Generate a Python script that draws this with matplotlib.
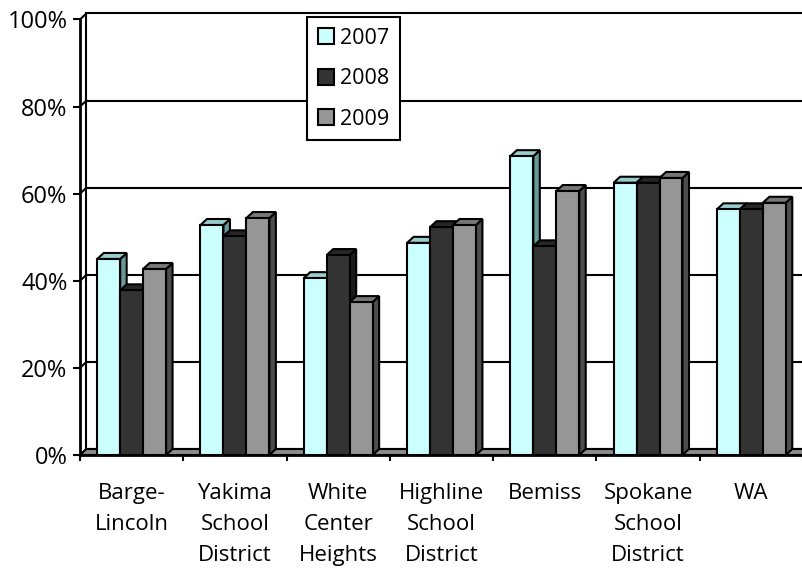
import matplotlib
matplotlib.use("Agg")
import matplotlib.pyplot as plt
from matplotlib.patches import Polygon, Patch
import numpy as np

plt.rcParams['font.family'] = ['Open Sans', 'DejaVu Sans']

categories = ["Barge-\nLincoln", "Yakima\nSchool\nDistrict", "White\nCenter\nHeights",
              "Highline\nSchool\nDistrict", "Bemiss", "Spokane\nSchool\nDistrict", "WA"]
series_names = ["2007", "2008", "2009"]
v2007 = [45.0, 52.8, 40.6, 48.7, 68.6, 62.5, 56.4]
v2008 = [37.8, 50.2, 45.9, 52.3, 47.9, 62.5, 56.4]
v2009 = [42.7, 54.4, 35.1, 52.8, 60.6, 63.6, 57.9]
yticks = [0, 20, 40, 60, 80, 100]
ytick_labels = ["0%", "20%", "40%", "60%", "80%", "100%"]

series = [v2007, v2008, v2009]
front_cols = ['#CCFFFF', '#333333', '#969696']
top_cols = ['#99CCCC', '#262626', '#777777']
side_cols = ['#669999', '#1A1A1A', '#4D4D4D']

W, H = 803, 569
fig = plt.figure(figsize=(W / 100, H / 100), dpi=100)
ax = fig.add_axes([80 / W, (H - 455) / H, 723 / W, 435.6 / H])
ncat = len(categories)
ax.set_xlim(0, ncat)
ax.set_ylim(0, 100)
for s in ax.spines.values():
    s.set_visible(False)

dx = 6.5 / (723 / ncat)     # depth offset in category units
dy = 6.0 / 4.356            # depth offset in percent units
lw = 1.5

# back wall gridlines and left wall
for v in yticks:
    ax.plot([dx, ncat + dx + 1], [v + dy, v + dy], color='black', lw=lw, clip_on=False, zorder=1,
            solid_capstyle='butt')
    ax.plot([0, dx], [v, v + dy], color='black', lw=lw, clip_on=False, zorder=1)
ax.plot([dx, dx], [dy, 100 + dy], color='black', lw=lw, clip_on=False, zorder=1)
ax.plot([0, 0], [0, 100], color='black', lw=2.0, clip_on=False, zorder=2)

# floor
floor = Polygon([[0, 0], [ncat + 1, 0], [ncat + 1 + dx, dy], [dx, dy]], closed=True,
                facecolor='#8C8C8C', edgecolor='black', lw=lw, clip_on=False, zorder=2)
ax.add_patch(floor)

# 3D bars
bw = 1 / 4.5
start = 0.75 * bw
z = 3
for c in range(ncat):
    for i, vals in enumerate(series):
        v = vals[c]
        x0 = c + start + i * bw
        x1 = x0 + bw
        side = Polygon([[x1, 0], [x1 + dx, dy], [x1 + dx, v + dy], [x1, v]], closed=True,
                       facecolor=side_cols[i], edgecolor='black', lw=lw, clip_on=False, zorder=z)
        top = Polygon([[x0, v], [x1, v], [x1 + dx, v + dy], [x0 + dx, v + dy]], closed=True,
                      facecolor=top_cols[i], edgecolor='black', lw=lw, clip_on=False, zorder=z)
        front = Polygon([[x0, 0], [x1, 0], [x1, v], [x0, v]], closed=True,
                        facecolor=front_cols[i], edgecolor='black', lw=lw, clip_on=False, zorder=z + 0.5)
        ax.add_patch(side)
        ax.add_patch(top)
        ax.add_patch(front)
        z += 1

# front floor edge
ax.plot([0, ncat + 1], [0, 0], color='black', lw=2.0, clip_on=False, zorder=z + 1)

# axes ticks
ax.set_yticks(yticks)
ax.set_yticklabels(ytick_labels)
ax.tick_params(axis='y', length=5, width=lw, pad=4, labelsize=17, colors='black')
ax.set_xticks(np.arange(0, ncat + 1))
ax.set_xticklabels([])
ax.tick_params(axis='x', which='major', length=4.5, width=lw)
ax.set_xticks(np.arange(ncat) + 0.5, minor=True)
ax.set_xticklabels(categories, minor=True, fontsize=16, linespacing=1.6)
ax.tick_params(axis='x', which='minor', length=0, pad=20.5)

leg = ax.legend([Patch(facecolor=c, edgecolor='black', lw=lw) for c in front_cols], series_names,
                loc='upper left', bbox_to_anchor=(307 / W, 1 - 17 / H), bbox_transform=fig.transFigure,
                frameon=True, fancybox=False, framealpha=1, edgecolor='black', fontsize=15.5,
                handlelength=0.75, handleheight=0.75, handletextpad=0.3, labelspacing=0.9,
                borderpad=0.5, borderaxespad=0)
leg.get_frame().set_linewidth(lw)
leg.set_zorder(100)

fig.savefig("out.png", dpi=100)
